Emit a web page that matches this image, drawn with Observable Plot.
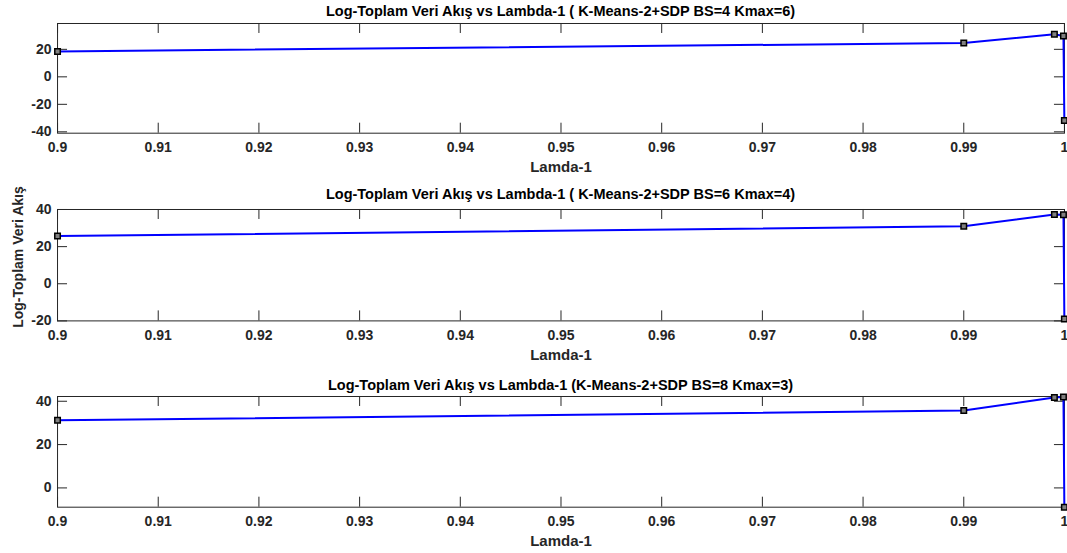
<!DOCTYPE html>
<html>
<head>
<meta charset="utf-8">
<script src="https://cdn.jsdelivr.net/npm/d3@7"></script>
<script src="https://cdn.jsdelivr.net/npm/@observablehq/plot@0.6"></script>
<style>
  body { margin: 0; background: #fff; }
  #fig { position: relative; width: 1067px; height: 553px; background: #fff; font-family: "Liberation Sans", Arial, sans-serif; color: #262626; overflow: hidden; }
  .title { position: absolute; left: 57px; width: 1007px; text-align: center; font-weight: bold; font-size: 14.5px; color: #000; line-height: 16px; }
  .ylab { position: absolute; font-weight: bold; font-size: 14px; color: #262626; transform: rotate(-90deg); transform-origin: center center; white-space: nowrap; }
  .panel { position: absolute; left: 0; }
</style>
</head>
<body>
<div id="fig"></div>
<script>
// ---- data ----
const lambdas = [0.9, 0.99, 0.999, 0.9999, 0.99999];
const flow1 = [18.5, 24.6, 31.0, 29.7, -31.8];
const flow2 = [25.7, 31.0, 37.3, 37.2, -19.0];
const flow3 = [31.2, 35.7, 41.7, 42.0, -8.9];
const titles = [
  "Log-Toplam Veri Akış vs Lambda-1 ( K-Means-2+SDP BS=4 Kmax=6)",
  "Log-Toplam Veri Akış vs Lambda-1 ( K-Means-2+SDP BS=6 Kmax=4)",
  "Log-Toplam Veri Akış vs Lambda-1 (K-Means-2+SDP BS=8 Kmax=3)"
];
const xTicks = [0.9, 0.91, 0.92, 0.93, 0.94, 0.95, 0.96, 0.97, 0.98, 0.99, 1.0];
const xTickLabels = ["0.9", "0.91", "0.92", "0.93", "0.94", "0.95", "0.96", "0.97", "0.98", "0.99", "1"];
const yTicks1 = [-40, -20, 0, 20];
const yTicks2 = [-20, 0, 20, 40];
const yTicks3 = [0, 20, 40];
const xLabel = "Lamda-1";
const yLabel = "Log-Toplam Veri Akış";

// ---- layout ----
const fig = document.getElementById("fig");
const W = 1067, ML = 57, MR = 3, MT = 6, MB = 48;
const panels = [
  {series: flow1, yTicks: yTicks1, yDomain: [-41, 38.8], top: 23.3, bottom: 133, titleY: 3},
  {series: flow2, yTicks: yTicks2, yDomain: [-20, 40], top: 209.3, bottom: 320.7, titleY: 186},
  {series: flow3, yTicks: yTicks3, yDomain: [-8.9, 42.2], top: 396, bottom: 506.7, titleY: 377}
];

const ink = "#262626";
panels.forEach((p, i) => {
  const innerH = p.bottom - p.top;
  const innerW = W - ML - MR;
  const data = lambdas.map((x, j) => ({x, y: p.series[j]}));
  const chart = Plot.plot({
    width: W,
    height: MT + innerH + MB,
    marginLeft: ML,
    marginRight: MR,
    marginTop: MT,
    marginBottom: MB,
    style: {fontFamily: "'Liberation Sans', Arial, sans-serif", fontSize: "14px", fontWeight: "bold", color: ink, background: "transparent", overflow: "visible"},
    x: {domain: [0.9, 1.0], axis: null},
    y: {domain: p.yDomain, axis: null},
    marks: [
      // inward ticks on all four sides
      Plot.ruleX(xTicks, {x: d => d, insetTop: innerH - 10, stroke: ink, strokeWidth: 1}),
      Plot.ruleX(xTicks, {x: d => d, insetBottom: innerH - 10, stroke: ink, strokeWidth: 1}),
      Plot.ruleY(p.yTicks, {y: d => d, insetRight: innerW - 10, stroke: ink, strokeWidth: 1}),
      Plot.ruleY(p.yTicks, {y: d => d, insetLeft: innerW - 10, stroke: ink, strokeWidth: 1}),
      Plot.frame({stroke: ink, strokeWidth: 1}),
      Plot.axisX({ticks: xTicks, tickFormat: (d) => xTickLabels[xTicks.findIndex(t => Math.abs(t - d) < 1e-9)], tickSize: 0, tickPadding: 9, label: null, fill: ink}),
      Plot.axisY({ticks: p.yTicks, tickFormat: d => String(d), tickSize: 0, tickPadding: 6, label: null, fill: ink}),
      Plot.text([xLabel], {frameAnchor: "bottom", lineAnchor: "middle", dy: 34, text: d => d, fill: ink, fontSize: 15, fontWeight: "bold"}),
      Plot.line(data, {x: "x", y: "y", stroke: "#0000ff", strokeWidth: 2}),
      Plot.dot(data, {x: "x", y: "y", symbol: "square", r: 3.1, fill: "#808080", stroke: "#000", strokeWidth: 1.5})
    ]
  });
  chart.classList.add("panel");
  chart.style.top = (p.top - MT) + "px";
  fig.appendChild(chart);

  const t = document.createElement("div");
  t.className = "title";
  t.style.top = p.titleY + "px";
  t.textContent = titles[i];
  fig.appendChild(t);
});

const yl = document.createElement("div");
yl.className = "ylab";
yl.textContent = yLabel;
fig.appendChild(yl);
const w = yl.offsetWidth, h = yl.offsetHeight;
yl.style.left = (17.5 - w / 2) + "px";
yl.style.top = (257 - h / 2) + "px";
</script>
</body>
</html>
